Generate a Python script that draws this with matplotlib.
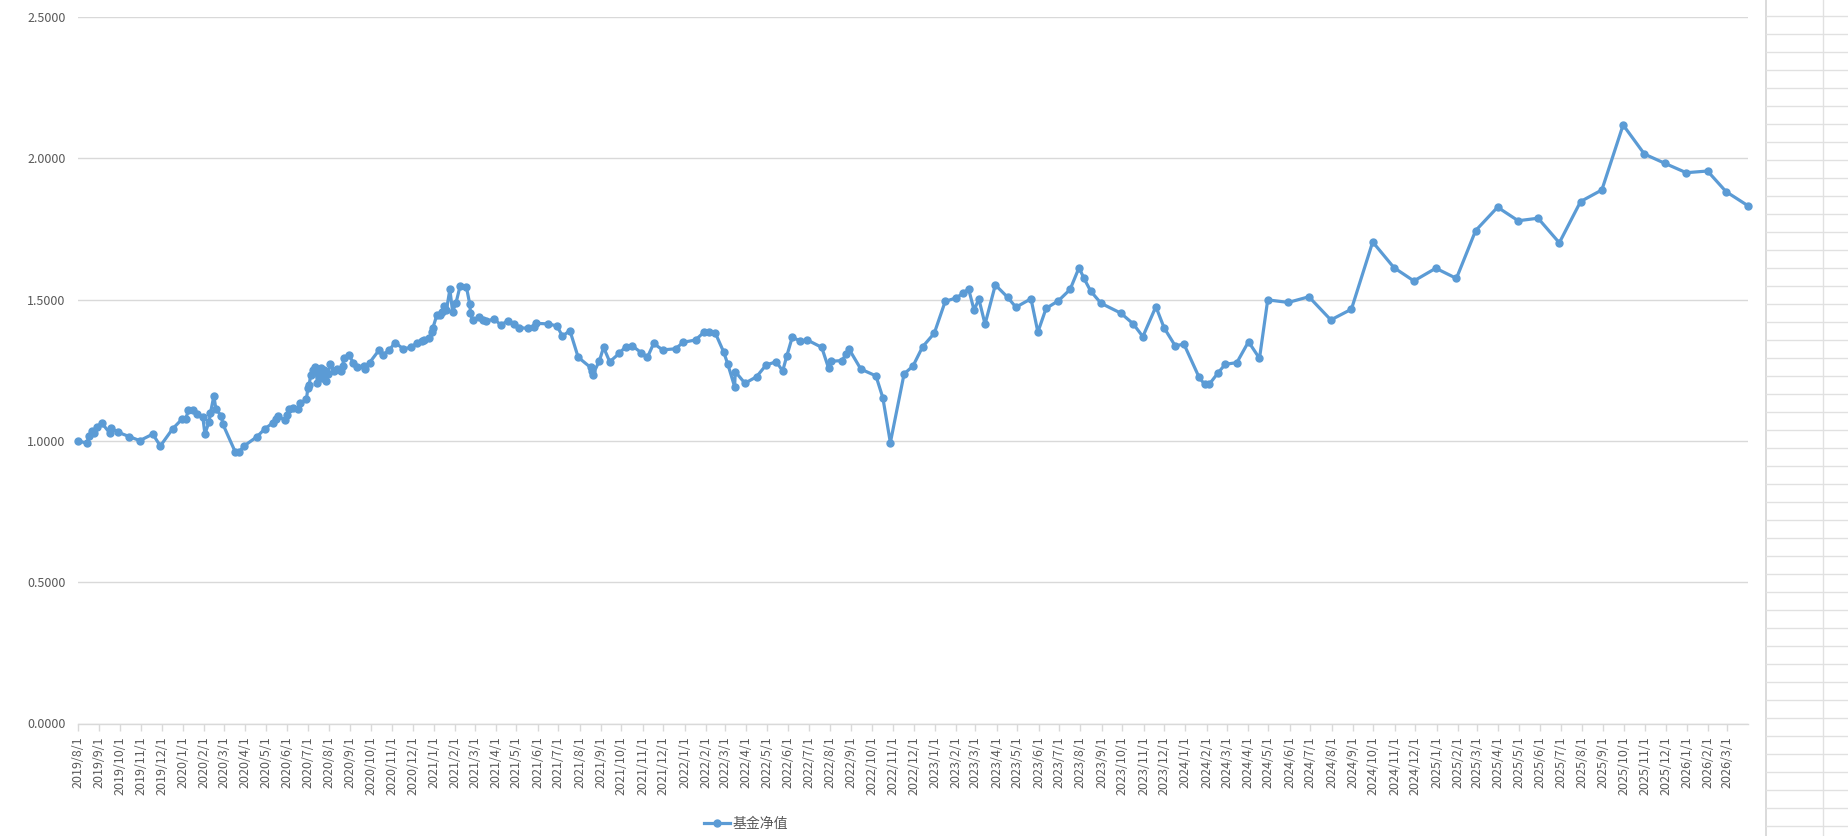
import numpy as np
import pandas as pd
import matplotlib
matplotlib.use("Agg")
import matplotlib.pyplot as plt
import matplotlib.dates as mdates
from matplotlib.ticker import FuncFormatter
from matplotlib.lines import Line2D

plt.rcParams['font.family'] = ['Noto Sans CJK SC', 'DejaVu Sans']

start_date = "2019-08-01"
series_name = "基金净值"

# days since start_date
day_offsets = [
    0, 13, 16, 20, 24, 27, 35, 46, 48, 59, 75, 90, 109, 120, 138, 152, 157, 161, 168, 173,
    182, 185, 191, 193, 198, 201, 209, 211, 229, 235, 242, 261, 272, 284, 288, 291, 301, 305, 308, 313,
    321, 324, 333, 335, 337, 339, 342, 346, 349, 351, 354, 356, 359, 361, 364, 368, 373, 377, 384, 386,
    387, 395, 401, 407, 417, 419, 425, 439, 444, 454, 462, 474, 486, 494, 502, 505, 512, 516, 517, 523,
    527, 530, 533, 537, 542, 546, 551, 557, 566, 571, 572, 575, 584, 591, 595, 607, 616, 626, 636, 643,
    656, 664, 668, 685, 698, 706, 717, 729, 747, 749, 750, 760, 766, 775, 789, 798, 808, 821, 830, 839,
    852, 871, 882, 900, 912, 920, 929, 941, 947, 957, 958, 972, 989, 1003, 1018, 1027, 1033, 1041, 1052, 1063,
    1084, 1094, 1098, 1113, 1120, 1124, 1141, 1163, 1173, 1184, 1204, 1217, 1231, 1248, 1264, 1279, 1290, 1298, 1306, 1313,
    1322, 1337, 1355, 1367, 1389, 1399, 1411, 1429, 1446, 1459, 1466, 1476, 1491, 1520, 1538, 1552, 1571, 1583, 1599, 1612,
    1634, 1642, 1649, 1661, 1672, 1689, 1706, 1722, 1734, 1764, 1794, 1826, 1856, 1887, 1918, 1947, 1979, 2009, 2037, 2069,
    2099, 2128, 2159, 2190, 2221, 2252, 2283, 2313, 2344, 2375, 2402, 2434,
]

nav = [
    1.000, 0.992, 1.017, 1.036, 1.029, 1.050, 1.062, 1.029, 1.045, 1.030, 1.015, 1.001, 1.024, 0.982, 1.043, 1.078, 1.078, 1.109, 1.109, 1.095,
    1.083, 1.024, 1.068, 1.098, 1.159, 1.113, 1.088, 1.060, 0.962, 0.962, 0.982, 1.015, 1.042, 1.064, 1.076, 1.088, 1.074, 1.092, 1.112, 1.115,
    1.114, 1.133, 1.147, 1.188, 1.198, 1.233, 1.251, 1.263, 1.206, 1.245, 1.257, 1.221, 1.251, 1.213, 1.237, 1.272, 1.248, 1.253, 1.248, 1.265,
    1.292, 1.304, 1.277, 1.263, 1.265, 1.253, 1.277, 1.322, 1.304, 1.322, 1.348, 1.326, 1.331, 1.348, 1.355, 1.357, 1.363, 1.386, 1.398, 1.445,
    1.445, 1.457, 1.477, 1.463, 1.536, 1.457, 1.489, 1.549, 1.546, 1.484, 1.452, 1.428, 1.437, 1.428, 1.425, 1.431, 1.410, 1.424, 1.413, 1.401,
    1.398, 1.402, 1.416, 1.414, 1.407, 1.371, 1.390, 1.296, 1.260, 1.248, 1.233, 1.284, 1.331, 1.280, 1.310, 1.333, 1.336, 1.312, 1.296, 1.345,
    1.322, 1.326, 1.349, 1.357, 1.384, 1.384, 1.381, 1.315, 1.272, 1.192, 1.245, 1.204, 1.227, 1.269, 1.280, 1.247, 1.300, 1.367, 1.354, 1.357,
    1.331, 1.257, 1.282, 1.284, 1.307, 1.324, 1.254, 1.230, 1.153, 0.994, 1.237, 1.265, 1.333, 1.381, 1.494, 1.505, 1.522, 1.538, 1.463, 1.502,
    1.413, 1.552, 1.508, 1.473, 1.503, 1.385, 1.469, 1.496, 1.536, 1.613, 1.576, 1.530, 1.487, 1.452, 1.414, 1.369, 1.475, 1.400, 1.337, 1.342,
    1.225, 1.200, 1.201, 1.239, 1.271, 1.277, 1.351, 1.292, 1.499, 1.490, 1.510, 1.428, 1.466, 1.704, 1.613, 1.566, 1.611, 1.575, 1.744, 1.827,
    1.779, 1.788, 1.701, 1.847, 1.888, 2.118, 2.015, 1.982, 1.949, 1.955, 1.882, 1.832,
]

y_ticks = [0.0, 0.5, 1.0, 1.5, 2.0, 2.5]

line_color = "#5B9BD5"
grid_color = "#D9D9D9"
text_color = "#595959"

dates = pd.Timestamp(start_date) + pd.to_timedelta(day_offsets, unit="D")

W, H = 1849, 836
fig = plt.figure(figsize=(W / 100, H / 100), dpi=100)
ax = fig.add_axes([78 / W, 1 - 723.5 / H, (1748 - 78) / W, (723.5 - 17) / H])

ax.plot(dates, nav, color=line_color, linewidth=2.3, marker="o", markersize=5,
        markerfacecolor=line_color, markeredgecolor=line_color, zorder=3, clip_on=False)

ax.set_ylim(0, 2.5)
ax.set_xlim(dates[0], dates[-1])
ax.set_yticks(y_ticks)
ax.yaxis.set_major_formatter(FuncFormatter(lambda v, p: f"{v:.4f}"))
ax.yaxis.grid(True, color=grid_color, linewidth=1)
ax.set_axisbelow(True)

ax.xaxis.set_major_locator(mdates.MonthLocator())
ax.xaxis.set_major_formatter(FuncFormatter(
    lambda v, p: (lambda d: f"{d.year}/{d.month}/{d.day}")(mdates.num2date(v))))

for s in ["left", "right", "top"]:
    ax.spines[s].set_visible(False)
ax.spines["bottom"].set_color(grid_color)
ax.spines["bottom"].set_linewidth(1)

ax.tick_params(axis="y", length=0, labelsize=9, labelcolor=text_color, pad=9)
ax.tick_params(axis="x", length=5, width=1, color=grid_color, labelsize=9,
               labelcolor=text_color, labelrotation=90, pad=4)

handle = Line2D([], [], color=line_color, linewidth=2.3, marker="o", markersize=5)
fig.legend([handle], [series_name], loc="center left", bbox_to_anchor=(698 / W, 1 - 824 / H),
           frameon=False, fontsize=10, labelcolor=text_color, handlelength=1.9,
           handletextpad=0.2, borderaxespad=0)

# spreadsheet cells visible to the right of the chart
fig.add_artist(Line2D([1766 / W, 1766 / W], [0, 1], color="#D4D4D4", linewidth=1.2))
fig.add_artist(Line2D([1823 / W, 1823 / W], [0, 1], color="#E1E1E1", linewidth=1))
for yy in range(16, H, 18):
    fig.add_artist(Line2D([1766 / W, 1], [1 - yy / H, 1 - yy / H], color="#E1E1E1", linewidth=1))

fig.savefig("out.png", dpi=100)
